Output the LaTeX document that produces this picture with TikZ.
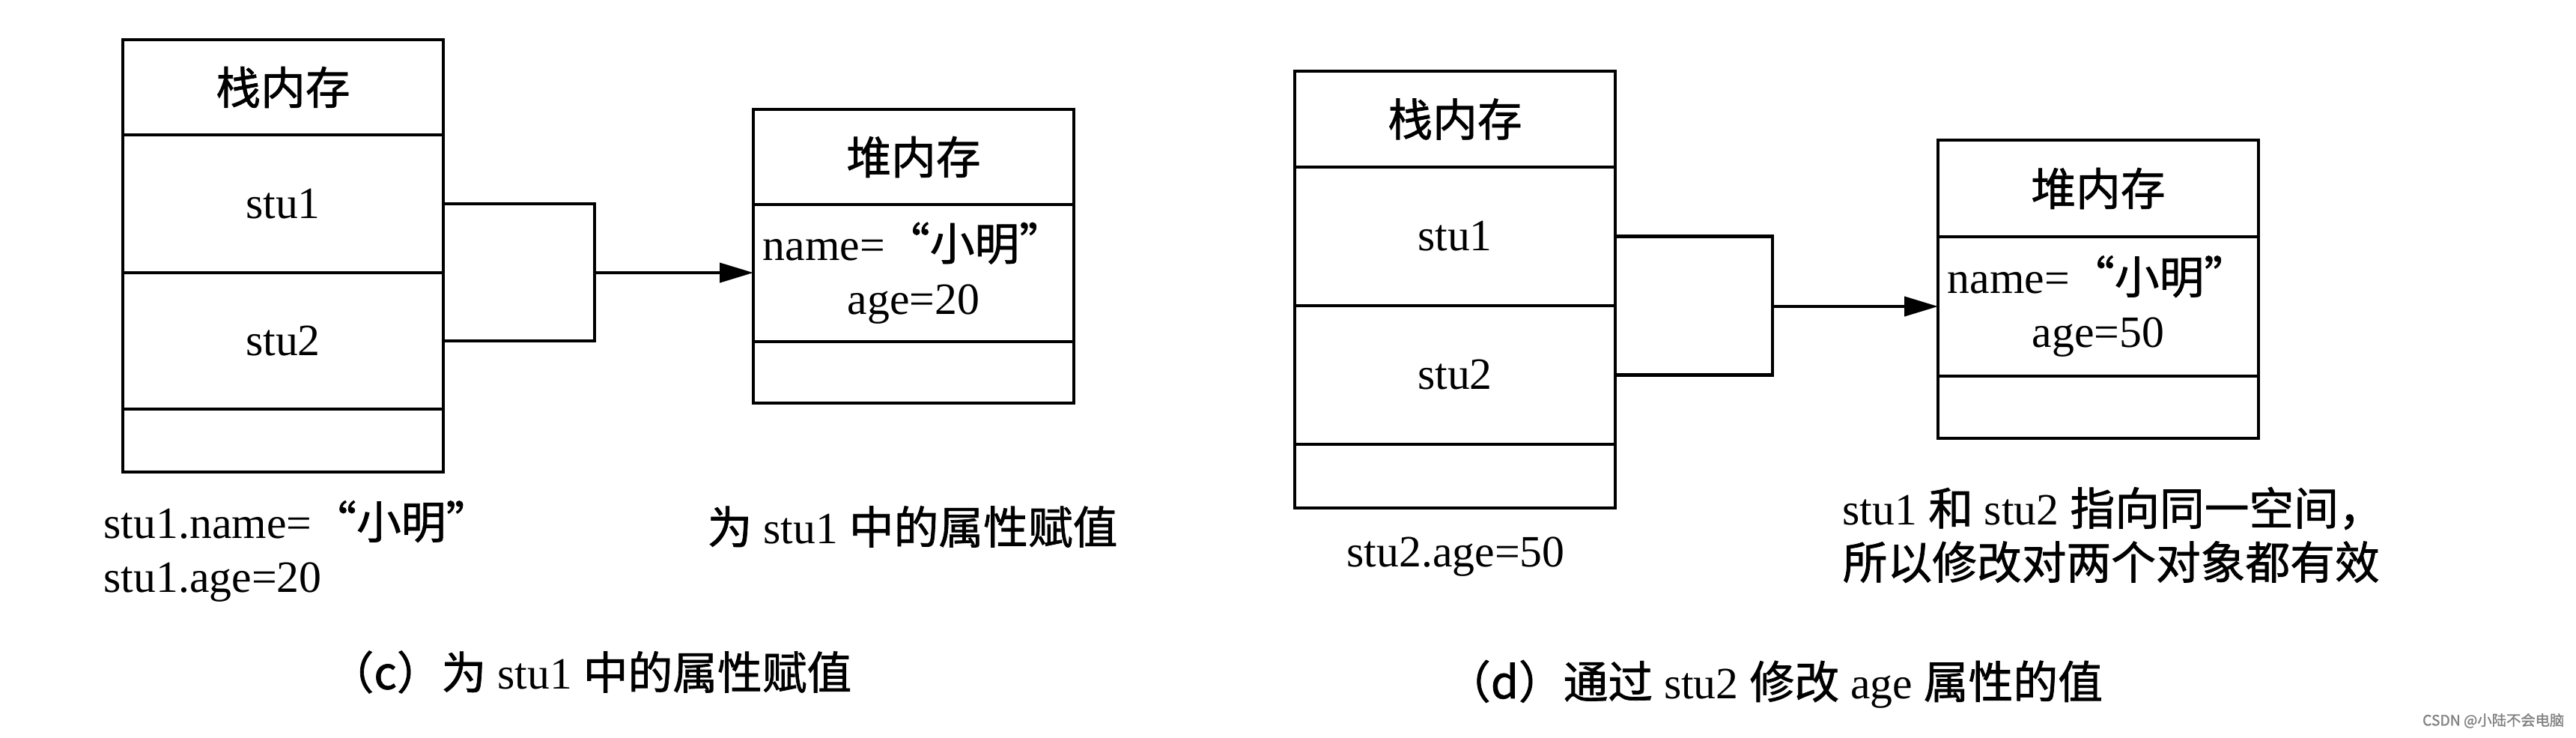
\documentclass[tikz,border=0pt]{standalone}
\usepackage{fontspec}
\setmainfont{Liberation Serif}
\newfontfamily\cjk{Noto Sans CJK SC}[FakeBold=1.2]
\usetikzlibrary{arrows.meta, positioning}
\newcommand{\zh}[1]{{\cjk #1}}
\tikzset{
  memcell/.style={draw, line width=1.2pt, minimum width=4.28cm, inner sep=0pt, outer sep=0pt,
    font=\fontsize{17pt}{20.5pt}\selectfont, align=center},
  memtxt/.style={inner sep=0pt, font=\fontsize{17pt}{20.5pt}\selectfont},
  link/.style={line width=1.2pt},
  ptr/.style={line width=1.2pt, -{Triangle[length=4.5mm, width=2.6mm]}}
}

\begin{document}
\begin{tikzpicture}
\useasboundingbox[fill=white] (0,0) rectangle (34.4,9.84);
% (c) stack memory
\node[memcell, minimum height=1.27cm, anchor=north] (stkC) at (3.78,9.31) {\zh{栈内存}};
\node[memcell, minimum height=1.84cm, below=0pt of stkC] (stkCa) {stu1};
\node[memcell, minimum height=1.82cm, below=0pt of stkCa] (stkCb) {stu2};
\node[memcell, minimum height=0.84cm, below=0pt of stkCb] (stkCe) {};
% (c) heap memory
\node[memcell, minimum height=1.27cm, anchor=north] (heapC) at (12.20,8.38) {\zh{堆内存}};
\node[memcell, minimum height=1.83cm, below=0pt of heapC] (heapCa) {name=\zh{“小明”}\\age=20};
\node[memcell, minimum height=0.82cm, below=0pt of heapCa] (heapCe) {};
% (c) stu1 and stu2 joined into one pointer
\coordinate (jC) at (7.94,6.20);
\draw[link] (stkCa.east) -| (jC) |- (stkCb.east);
\draw[ptr] (jC) -- (jC -| heapCa.west);
% (c) notes and caption
\node[memtxt, anchor=west, align=left] (noteC) at (1.38,2.48) {stu1.name=\zh{“小明”}\\stu1.age=20};
\node[memtxt, anchor=west] (tipC) at (9.44,2.81) {\zh{为} stu1 \zh{中的属性赋值}};
\node[memtxt] (capC) at (7.885,0.87) {\zh{（c）为} stu1 \zh{中的属性赋值}};

% (d) stack memory
\node[memcell, minimum height=1.28cm, anchor=north] (stkD) at (19.43,8.89) {\zh{栈内存}};
\node[memcell, minimum height=1.85cm, below=0pt of stkD] (stkDa) {stu1};
\node[memcell, minimum height=1.85cm, below=0pt of stkDa] (stkDb) {stu2};
\node[memcell, minimum height=0.85cm, below=0pt of stkDb] (stkDe) {};
% (d) heap memory
\node[memcell, minimum height=1.29cm, anchor=north] (heapD) at (28.02,7.97) {\zh{堆内存}};
\node[memcell, minimum height=1.86cm, below=0pt of heapD] (heapDa) {name=\zh{“小明”}\\age=50};
\node[memcell, minimum height=0.83cm, below=0pt of heapDa] (heapDe) {};
% (d) stu1 and stu2 joined into one pointer
\coordinate (jD) at (23.67,5.75);
\draw[link] (stkDa.east) -| (jD) |- (stkDb.east);
\draw[ptr] (jD) -- (jD -| heapDa.west);
% (d) notes and caption
\node[memtxt] (noteD) at (19.44,2.41) {stu2.age=50};
\node[memtxt, anchor=west, align=left] (tipD) at (24.60,2.70) {stu1 \zh{和} stu2 \zh{指向同一空间，}\\\zh{所以修改对两个对象都有效}};
\node[memtxt] (capD) at (23.695,0.71) {\zh{（d）通过} stu2 \zh{修改} age \zh{属性的值}};
% watermark
\node[inner sep=0pt, anchor=east, text=gray, font=\fontsize{5.5pt}{6pt}\selectfont] (mark) at (34.25,0.22) {\zh{CSDN @小陆不会电脑}};
\end{tikzpicture}
\end{document}
